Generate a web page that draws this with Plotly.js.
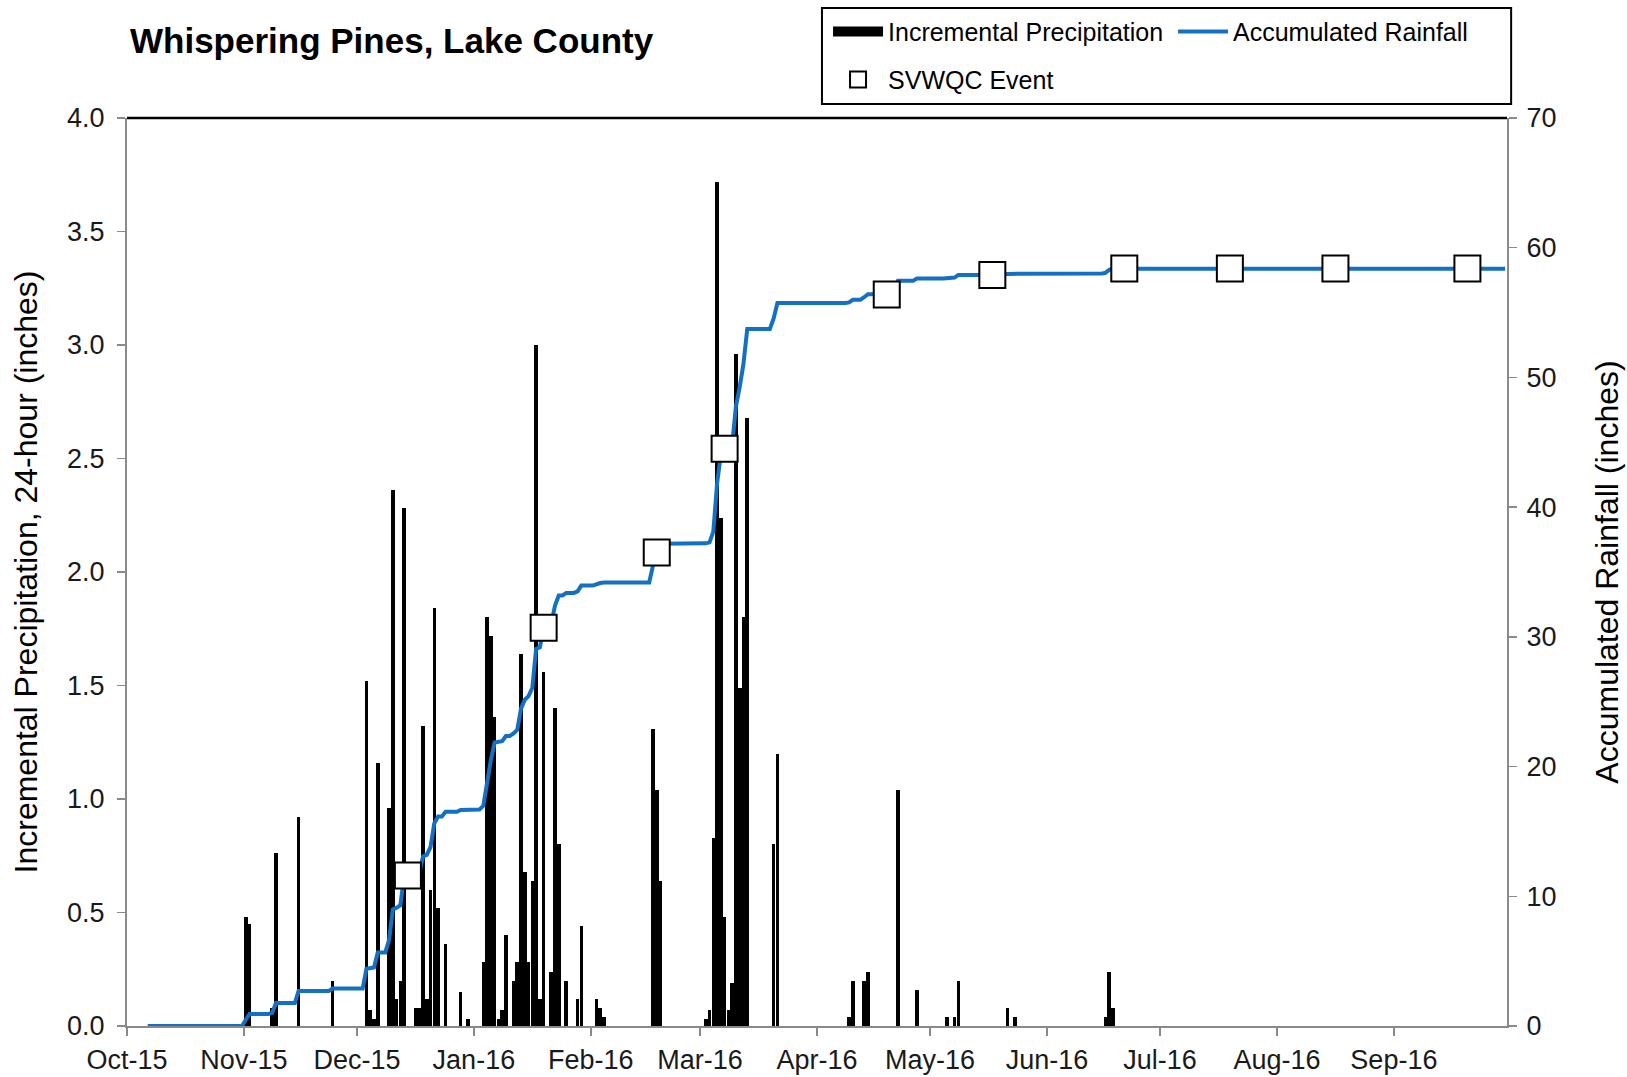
<!DOCTYPE html>
<html>
<head>
<meta charset="utf-8">
<script src="https://cdn.plot.ly/plotly-3.0.1.min.js"></script>
<style>html,body{margin:0;padding:0;background:#fff;}#chart{width:1627px;height:1077px;}</style>
</head>
<body>
<div id="chart"></div>
<script>
// ---- Data ----
const precipDates = [
  '2015-11-01','2015-11-02','2015-11-08','2015-11-09','2015-11-15','2015-11-24',
  '2015-12-03','2015-12-04','2015-12-05','2015-12-06','2015-12-09','2015-12-10','2015-12-11','2015-12-12','2015-12-13',
  '2015-12-16','2015-12-17','2015-12-18','2015-12-19','2015-12-20','2015-12-21','2015-12-22','2015-12-24','2015-12-28','2015-12-30',
  '2016-01-03','2016-01-04','2016-01-05','2016-01-06','2016-01-07','2016-01-08','2016-01-09','2016-01-11','2016-01-12','2016-01-13',
  '2016-01-14','2016-01-15','2016-01-16','2016-01-17','2016-01-18','2016-01-19','2016-01-21','2016-01-22','2016-01-23','2016-01-25',
  '2016-01-28','2016-01-29',
  '2016-02-02','2016-02-03','2016-02-04','2016-02-17','2016-02-18','2016-02-19',
  '2016-03-02','2016-03-03','2016-03-04','2016-03-05','2016-03-06','2016-03-07','2016-03-08','2016-03-09','2016-03-10','2016-03-11',
  '2016-03-12','2016-03-13','2016-03-20','2016-03-21',
  '2016-04-09','2016-04-10','2016-04-13','2016-04-14','2016-04-22','2016-04-27',
  '2016-05-05','2016-05-07','2016-05-08','2016-05-21','2016-05-23',
  '2016-06-16','2016-06-17','2016-06-18'
];
const precipValues = [
  0.48,0.45,0.08,0.76,0.92,0.20,
  1.52,0.07,0.03,1.16,0.96,2.36,0.12,0.20,2.28,
  0.08,0.08,1.32,0.12,0.60,1.84,0.52,0.36,0.15,0.03,
  0.28,1.80,1.72,1.36,0.03,0.07,0.40,0.20,0.28,1.64,
  0.68,0.28,0.64,3.00,0.12,1.56,0.24,1.40,0.80,0.20,
  0.12,0.44,
  0.12,0.08,0.04,1.31,1.04,0.64,
  0.03,0.07,0.83,3.72,2.24,0.48,0.07,0.19,2.96,1.49,
  1.80,2.68,0.80,1.20,
  0.04,0.20,0.20,0.24,1.04,0.16,
  0.04,0.04,0.20,0.08,0.04,
  0.04,0.24,0.08
];

const accumDates = [
  '2015-10-06','2015-10-31','2015-11-01','2015-11-02','2015-11-07','2015-11-08','2015-11-09','2015-11-14','2015-11-15',
  '2015-11-23','2015-11-24','2015-12-02','2015-12-03','2015-12-04','2015-12-05','2015-12-06','2015-12-08','2015-12-09',
  '2015-12-10','2015-12-11','2015-12-12','2015-12-13','2015-12-15','2015-12-16','2015-12-17','2015-12-18','2015-12-19',
  '2015-12-20','2015-12-21','2015-12-22','2015-12-23','2015-12-24','2015-12-27','2015-12-28','2015-12-29','2015-12-30',
  '2016-01-02','2016-01-03','2016-01-04','2016-01-05','2016-01-06','2016-01-07','2016-01-08','2016-01-09','2016-01-10',
  '2016-01-11','2016-01-12','2016-01-13','2016-01-14','2016-01-15','2016-01-16','2016-01-17','2016-01-18','2016-01-19',
  '2016-01-20','2016-01-21','2016-01-22','2016-01-23','2016-01-24','2016-01-25','2016-01-27','2016-01-28','2016-01-29',
  '2016-02-01','2016-02-02','2016-02-03','2016-02-04','2016-02-16','2016-02-17','2016-02-18','2016-02-19',
  '2016-03-01','2016-03-02','2016-03-03','2016-03-04','2016-03-05','2016-03-06','2016-03-07','2016-03-08','2016-03-09',
  '2016-03-10','2016-03-11','2016-03-12','2016-03-13','2016-03-19','2016-03-20','2016-03-21',
  '2016-04-08','2016-04-09','2016-04-10','2016-04-12','2016-04-13','2016-04-14','2016-04-21','2016-04-22','2016-04-26','2016-04-27',
  '2016-05-04','2016-05-05','2016-05-06','2016-05-07','2016-05-08','2016-05-20','2016-05-21','2016-05-22','2016-05-23',
  '2016-06-15','2016-06-16','2016-06-17','2016-06-18','2016-09-30'
];
const accumValues = [
  0,0,0.48,0.93,0.93,1.01,1.77,1.77,2.69,
  2.69,2.89,2.89,4.41,4.48,4.51,5.67,5.67,6.63,
  8.99,9.11,9.31,11.59,11.59,11.67,11.75,13.07,13.19,
  13.79,15.63,16.15,16.15,16.51,16.51,16.66,16.66,16.69,
  16.69,16.97,18.77,20.49,21.85,21.88,21.95,22.35,22.35,
  22.55,22.83,24.47,25.15,25.43,26.07,29.07,29.19,30.75,
  30.75,30.99,32.39,33.19,33.19,33.39,33.39,33.51,33.95,
  33.95,34.07,34.15,34.19,34.19,35.50,36.54,37.18,
  37.18,37.21,37.28,38.11,41.83,44.07,44.55,44.62,44.81,
  47.77,49.26,51.06,53.74,53.74,54.54,55.74,
  55.74,55.78,55.98,55.98,56.18,56.42,56.42,57.46,57.46,57.62,
  57.62,57.66,57.66,57.70,57.90,57.90,57.98,57.98,58.02,
  58.02,58.06,58.30,58.38,58.38
];

const eventDates = ['2015-12-14','2016-01-19','2016-02-18','2016-03-07','2016-04-19','2016-05-17','2016-06-21','2016-07-19','2016-08-16','2016-09-20'];
const eventValues = [11.6, 30.7, 36.5, 44.5, 56.4, 57.9, 58.4, 58.4, 58.4, 58.4];

const monthTickDates = ['2015-10-01','2015-11-01','2015-12-01','2016-01-01','2016-02-01','2016-03-01','2016-04-01','2016-05-01','2016-06-01','2016-07-01','2016-08-01','2016-09-01'];
const monthTickLabels = ['Oct-15','Nov-15','Dec-15','Jan-16','Feb-16','Mar-16','Apr-16','May-16','Jun-16','Jul-16','Aug-16','Sep-16'];

const leftTicks = [0,0.5,1,1.5,2,2.5,3,3.5,4];
const rightTicks = [0,10,20,30,40,50,60,70];

// ---- Chart ----
const DAY = 86400000;
const FONT = 'Liberation Sans, Arial, Helvetica, sans-serif';
const AXIS_GRAY = '#8a8a8a';
const xRange = ['2015-10-01','2016-10-01'];

const traces = [
  {
    type: 'bar', name: 'Incremental Precipitation',
    x: precipDates, y: precipValues,
    xperiod: DAY, xperiodalignment: 'middle',
    width: 0.95 * DAY,
    marker: {color: '#000000', line: {width: 0}},
    yaxis: 'y', legend: 'legend', legendgroup: 'precip', showlegend: false
  },
  {
    // legend key only (wide black block like the reference's legend swatch)
    type: 'scatter', mode: 'lines', name: 'Incremental Precipitation',
    x: [null], y: [null],
    line: {color: '#000000', width: 13},
    yaxis: 'y', legend: 'legend', legendgroup: 'precip', hoverinfo: 'skip'
  },
  {
    type: 'scatter', mode: 'lines', name: 'Accumulated Rainfall',
    x: accumDates, y: accumValues,
    xperiod: DAY, xperiodalignment: 'middle',
    line: {color: '#1370c2', width: 4},
    yaxis: 'y2', legend: 'legend'
  },
  {
    type: 'scatter', mode: 'markers', name: 'SVWQC Event',
    x: eventDates, y: eventValues,
    xperiod: DAY, xperiodalignment: 'middle',
    marker: {symbol: 'square', size: 26, color: '#ffffff', line: {color: '#000000', width: 2}},
    yaxis: 'y2', legend: 'legend2'
  }
];

const tickFont = {family: FONT, size: 27, color: '#1a1a1a'};

const layout = {
  width: 1627, height: 1077,
  margin: {l: 127, r: 120, t: 118, b: 51, autoexpand: false},
  paper_bgcolor: '#ffffff', plot_bgcolor: '#ffffff',
  font: {family: FONT, size: 27, color: '#000'},
  showlegend: true,
  bargap: 0,
  title: {
    text: '<b>Whispering Pines, Lake County</b>',
    font: {family: FONT, size: 35, color: '#000'},
    x: 130 / 1627, xanchor: 'left', xref: 'container',
    y: 1 - 41 / 1077, yanchor: 'middle', yref: 'container'
  },
  xaxis: {
    type: 'date', range: xRange,
    tickmode: 'array', tickvals: monthTickDates, ticktext: monthTickLabels,
    ticks: 'outside', ticklen: 8, tickwidth: 1.5, tickcolor: AXIS_GRAY,
    showline: true, linecolor: AXIS_GRAY, linewidth: 2,
    showgrid: false, zeroline: false, tickfont: tickFont,
    ticklabelstandoff: 1, automargin: false
  },
  xaxis3: {
    type: 'date', range: xRange, overlaying: 'x', anchor: 'y',
    tickmode: 'array', tickvals: monthTickDates,
    ticks: 'inside', ticklen: 8, tickwidth: 1.5, tickcolor: AXIS_GRAY,
    showticklabels: false, showline: false, showgrid: false, zeroline: false
  },
  yaxis: {
    range: [0, 4], tickmode: 'array', tickvals: leftTicks, tickformat: '.1f',
    ticks: 'outside', ticklen: 8, tickwidth: 1.5, tickcolor: AXIS_GRAY,
    showline: true, linecolor: AXIS_GRAY, linewidth: 2,
    showgrid: false, zeroline: false, tickfont: tickFont,
    ticklabelstandoff: 7, automargin: false,
    title: {text: 'Incremental Precipitation, 24-hour (inches)', font: {family: FONT, size: 32, color: '#000'}, standoff: 20}
  },
  yaxis3: {
    range: [0, 4], overlaying: 'y', side: 'left', anchor: 'x',
    tickmode: 'array', tickvals: leftTicks,
    ticks: 'inside', ticklen: 8, tickwidth: 1.5, tickcolor: AXIS_GRAY,
    showticklabels: false, showline: false, showgrid: false, zeroline: false
  },
  yaxis2: {
    range: [0, 70], overlaying: 'y', side: 'right', anchor: 'x',
    tickmode: 'array', tickvals: rightTicks,
    ticks: 'outside', ticklen: 8, tickwidth: 1.5, tickcolor: AXIS_GRAY,
    showline: true, linecolor: AXIS_GRAY, linewidth: 2,
    showgrid: false, zeroline: false, tickfont: tickFont,
    ticklabelstandoff: 4, automargin: false,
    title: {text: 'Accumulated Rainfall (inches)', font: {family: FONT, size: 32, color: '#000'}, standoff: 40}
  },
  yaxis4: {
    range: [0, 70], overlaying: 'y', side: 'right', anchor: 'x',
    tickmode: 'array', tickvals: rightTicks,
    ticks: 'inside', ticklen: 8, tickwidth: 1.5, tickcolor: AXIS_GRAY,
    showticklabels: false, showline: false, showgrid: false, zeroline: false
  },
  legend: {
    orientation: 'h', x: 0.508, xanchor: 'left', y: 1.1202, yanchor: 'top',
    bgcolor: 'rgba(0,0,0,0)', borderwidth: 0,
    font: {family: FONT, size: 25, color: '#000'},
    entrywidth: 280, itemwidth: 50, traceorder: 'normal'
  },
  legend2: {
    orientation: 'h', x: 0.508, xanchor: 'left', y: 1.0674, yanchor: 'top',
    bgcolor: 'rgba(0,0,0,0)', borderwidth: 0,
    font: {family: FONT, size: 25, color: '#000'},
    itemwidth: 50
  },
  shapes: [
    {type: 'line', xref: 'paper', yref: 'paper', x0: 0, x1: 1, y0: 1, y1: 1, line: {color: '#000', width: 2.5}},
    {type: 'rect', xref: 'paper', yref: 'paper', x0: 0.5036, x1: 1.003, y0: 1.0154, y1: 1.1211, line: {color: '#000', width: 2}, fillcolor: 'rgba(0,0,0,0)'}
  ]
};

Plotly.newPlot('chart', traces, layout, {staticPlot: true, displayModeBar: false});
</script>
</body>
</html>
